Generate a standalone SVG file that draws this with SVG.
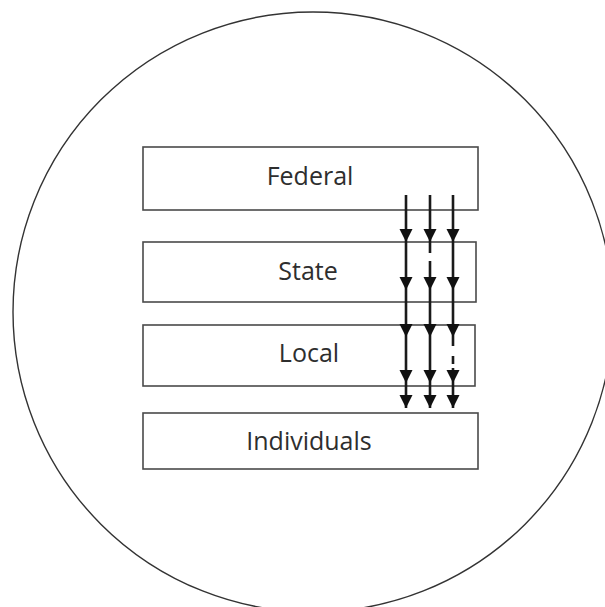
<svg xmlns="http://www.w3.org/2000/svg" width="605" height="607" viewBox="0 0 605 607">
<defs>
<style>
.box{fill:#fff;stroke:#4a4a4a;stroke-width:1.6}
.lbl{font-family:"Open Sans","Liberation Sans",sans-serif;font-size:25px;fill:#2e2e2e;text-anchor:middle}
.ar{stroke:#1a1a1a;stroke-width:2.6;fill:none;marker-end:url(#ah)}
</style>
<marker id="ah" markerUnits="userSpaceOnUse" markerWidth="14" markerHeight="14" refX="13" refY="7" orient="auto" viewBox="0 0 14 14">
<path d="M0,0.5 L13,7 L0,13.5 Z" fill="#111"/>
</marker>
</defs>
<rect width="605" height="607" fill="#fff"/>
<circle cx="313" cy="312" r="300" fill="none" stroke="#333" stroke-width="1.4"/>
<g id="federal"><rect class="box" x="143" y="147" width="335" height="63"/><text class="lbl" x="310" y="185">Federal</text></g>
<g id="state"><rect class="box" x="143" y="242" width="333" height="60"/><text class="lbl" x="308" y="280">State</text></g>
<g id="local"><rect class="box" x="143" y="325" width="332" height="61"/><text class="lbl" x="309" y="362">Local</text></g>
<g id="individuals"><rect class="box" x="143" y="413" width="335" height="56"/><text class="lbl" x="309" y="450">Individuals</text></g>
<g id="connectors">
<g transform="translate(406,0)">
<path class="ar" d="M0,195V242"/><path class="ar" d="M0,242V290"/><path class="ar" d="M0,290V337"/><path class="ar" d="M0,337V383"/><path class="ar" d="M0,383V408"/>
</g>
<g transform="translate(430,0)">
<path class="ar" d="M0,195V242"/><path class="ar" d="M0,242V253M0,261V290"/><path class="ar" d="M0,290V337"/><path class="ar" d="M0,337V383"/><path class="ar" d="M0,383V408"/>
</g>
<g transform="translate(453,0)">
<path class="ar" d="M0,195V242"/><path class="ar" d="M0,242V290"/><path class="ar" d="M0,290V337"/><path class="ar" d="M0,337V346M0,356V364M0,368V383"/><path class="ar" d="M0,383V408"/>
</g>
</g>
</svg>
